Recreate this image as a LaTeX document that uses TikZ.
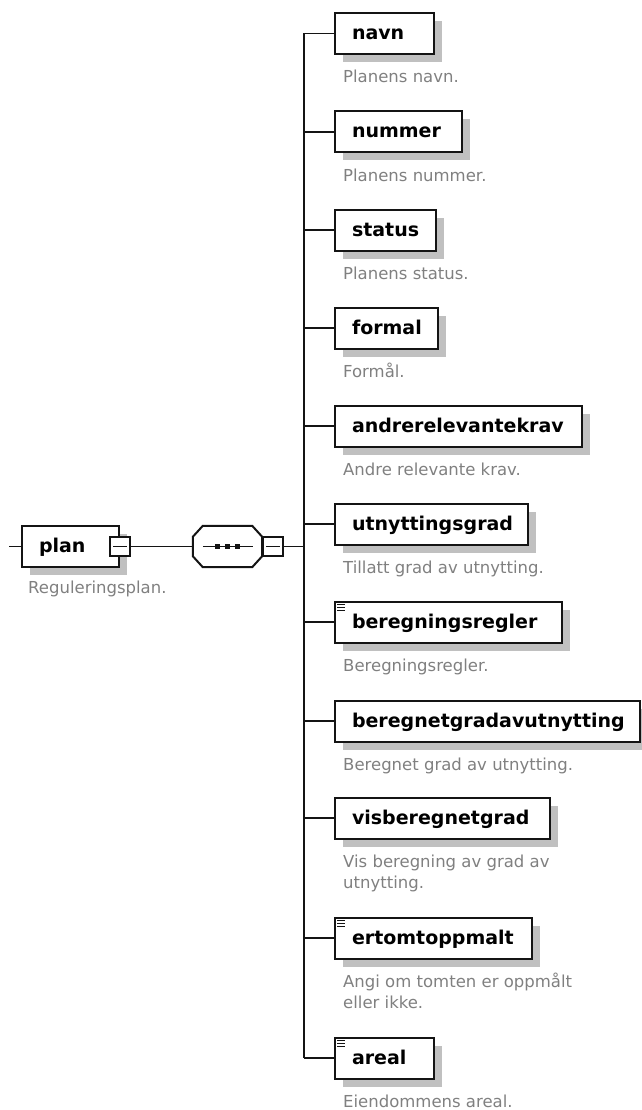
\documentclass[tikz,border=0pt]{standalone}
\usepackage{fontspec}
\setmainfont{DejaVu Sans}
\usetikzlibrary{calc}
\definecolor{shadowgray}{RGB}{192,192,192}
\definecolor{descgray}{RGB}{128,128,128}
\definecolor{linecol}{RGB}{20,20,20}
\newcommand{\octpath}{($(seq.north west)+(10,0)$) -- ($(seq.north east)+(-10,0)$) -- ($(seq.north east)+(0,11)$) -- ($(seq.south east)+(0,-11)$) -- ($(seq.south east)+(-10,0)$) -- ($(seq.south west)+(10,0)$) -- ($(seq.south west)+(0,-11)$) -- ($(seq.north west)+(0,11)$) -- cycle}
\tikzset{
  elem/.style={draw=linecol, line width=2pt, fill=white, anchor=west,
    minimum height=41pt, inner xsep=17pt, inner ysep=0pt,
    text width=#1, align=left, text height=15pt, text depth=3pt,
    font=\fontsize{19}{22}\selectfont\bfseries,
    preaction={fill=shadowgray, transform canvas={shift={(8pt,-8pt)}}}},
  desc/.style={anchor=base west, inner sep=0pt, text=descgray, align=left,
    font=\fontsize{16.5}{21}\selectfont},
  conn/.style={draw=linecol, line width=1.8pt},
  minusbox/.style={draw=linecol, line width=1.5pt, fill=white,
    minimum width=20pt, minimum height=19pt, inner sep=0pt},
  icon/.style={draw=linecol, line width=0.9pt},
}
\newcommand{\iconlines}[1]{%
  \draw[icon] ($(#1.north west)+(3,3.5)$) -- ($(#1.north west)+(11,3.5)$);
  \draw[icon] ($(#1.north west)+(3,6.8)$) -- ($(#1.north west)+(11,6.8)$);
  \draw[icon] ($(#1.north west)+(3,10.1)$) -- ($(#1.north west)+(11,10.1)$);}
\begin{document}
\begin{tikzpicture}[x=1pt,y=-1pt]
\useasboundingbox (0,0) rectangle (641,1110);

% root element
\node[elem=63pt] (plan) at (21,546.5) {plan};
\node[desc] (pland) at (28,593) {Reguleringsplan.};
\node[minusbox] (planm) at (plan.east) {};
\draw[conn, line width=1.3pt] ($(planm.west)+(4,0)$) -- ($(planm.east)+(-4,0)$);
\coordinate (stub) at (9,546.5);
\draw[conn] (stub) -- (plan.west);

% sequence compositor
\node[minimum width=69pt, minimum height=41pt, inner sep=0pt] (seq) at (227.5,546.5) {};
\begin{scope}[shift={(8,8)}]
  \fill[shadowgray] \octpath;
\end{scope}
\draw[draw=linecol, line width=2pt, fill=white] \octpath;
\draw[conn, line width=1.4pt] ($(seq.west)+(10,0)$) -- ($(seq.east)+(-9,0)$);
\foreach \dx in {-10,0,10} \fill[linecol] ($(seq.center)+(\dx,0)+(-2.2,-2.2)$) rectangle ++(4.4,4.4);
\node[minusbox] (seqm) at (273,546.5) {};
\draw[conn, line width=1.3pt] ($(seqm.west)+(4,0)$) -- ($(seqm.east)+(-4,0)$);
\draw[conn] (planm.east) -- (seq.west);
\coordinate (j) at (304,546.5);
\draw[conn] (seqm.east) -- (j);

% children
\node[elem=65pt]  (navn) at (334,33.5) {navn};
\node[elem=93pt]  (nummer) at (334,132) {nummer};
\node[elem=67pt]  (status) at (334,230) {status};
\node[elem=69pt]  (formal) at (334,328) {formal};
\node[elem=213pt] (andre) at (334,426) {andrerelevantekrav};
\node[elem=159pt] (utn) at (334,524) {utnyttingsgrad};
\node[elem=193pt] (beregn) at (334,622) {beregningsregler};
\node[elem=271pt] (beregnet) at (334,721) {beregnetgradavutnytting};
\node[elem=181pt] (vis) at (334,818) {visberegnetgrad};
\node[elem=163pt] (ertomt) at (334,938) {ertomtoppmalt};
\node[elem=65pt]  (areal) at (334,1058) {areal};

\iconlines{beregn}
\iconlines{ertomt}
\iconlines{areal}

\node[desc] (navnd) at (343,83) {Planens navn.};
\node[desc] (nummerd) at (343,181.5) {Planens nummer.};
\node[desc] (statusd) at (343,279.5) {Planens status.};
\node[desc] (formald) at (343,377.5) {Formål.};
\node[desc] (andred) at (343,475.5) {Andre relevante krav.};
\node[desc] (utnd) at (343,573.5) {Tillatt grad av utnytting.};
\node[desc] (beregnd) at (343,671.5) {Beregningsregler.};
\node[desc] (beregnetd) at (343,770.5) {Beregnet grad av utnytting.};
\node[desc] (visd) at (343,888.5) {Vis beregning av grad av\\utnytting.};
\node[desc] (ertomtd) at (343,1008.5) {Angi om tomten er oppmålt\\eller ikke.};
\node[desc] (areald) at (343,1107.5) {Eiendommens areal.};

% connectors
\draw[conn] (j |- navn.west) -- (j |- areal.west);
\foreach \n in {navn,nummer,status,formal,andre,utn,beregn,beregnet,vis,ertomt,areal}
  \draw[conn] (j |- \n.west) -- (\n.west);
\end{tikzpicture}
\end{document}
